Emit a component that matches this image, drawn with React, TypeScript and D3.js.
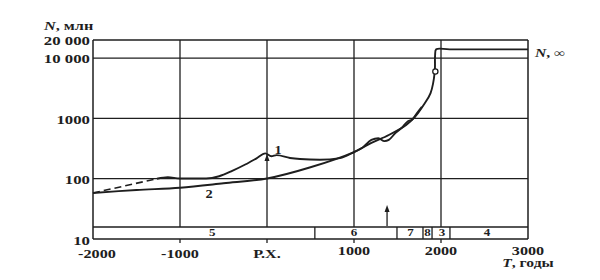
import React from "react";
import * as d3 from "d3";

const W = 600;
const H = 280;

const xTicks = [-2000, -1000, 0, 1000, 2000, 3000];
const xTickLabels = ["-2000", "-1000", "Р.Х.", "1000", "2000", "3000"];
const yTicks = [10, 100, 1000, 10000, 20000];
const yTickLabels = ["10", "100", "1000", "10 000", "20 000"];

// curve 2 (theory)
const theoryYears = [-2000, -1500, -1000, -500, 0, 500, 1000, 1200, 1400, 1600, 1700, 1800, 1880, 1928, 1932, 1945, 2100, 3000];
const theoryN = [58, 65, 71, 84, 101, 155, 277, 392, 531, 778, 1057, 1670, 2630, 5890, 11000, 14000, 14000, 14000];

// curve 1 (data)
const dataYears = [-1265, -1140, -1000, -700, -550, -400, -250, -120, -20, 50, 110, 264, 379, 609, 839, 1000, 1100, 1200, 1280, 1350, 1400, 1470, 1550, 1620, 1670, 1720, 1780];
const dataN = [100, 106, 101, 101, 110, 135, 172, 218, 263, 236, 246, 221, 212, 206, 220, 277, 330, 440, 470, 420, 440, 560, 700, 900, 960, 1200, 1550];

// dashed extrapolation
const dashYears = [-2000, -1265];
const dashN = [58, 100];

// period band
const bandBounds = [-2000, 550, 1494, 1793, 1897, 2103, 3000];
const bandLabels = ["5", "6", "7", "8", "3", "4"];
const bandLabelYears = [-630, 1000, 1650, 1845, 2010, 2530];

const arrowYear = 1380;
const circleYear = 1935;
const circleN = 6000;

const INK = "#1e1e1e";
const FONT = "'Liberation Serif', 'DejaVu Serif', serif";

function Txt({ x, y, anchor = "middle", size = 12, sx = 1.4, italic = false, children }: any) {
  return (
    <g transform={`translate(${x},${y}) scale(${sx},1)`}>
      <text
        x={0}
        y={0}
        textAnchor={anchor}
        dominantBaseline="central"
        fontFamily={FONT}
        fontSize={size}
        fontWeight="bold"
        fontStyle={italic ? "italic" : "normal"}
        fill={INK}
      >
        {children}
      </text>
    </g>
  );
}

export default function App() {
  const x = d3.scaleLinear().domain([-2000, 3000]).range([93, 528]);
  const y = d3.scaleLog().domain([10, 20000]).range([239, 40]);
  const bandTop = 227;

  const lineC = d3
    .line<[number, number]>()
    .x((d) => x(d[0]))
    .y((d) => y(d[1]))
    .curve(d3.curveCatmullRom.alpha(0.5));
  const lineM = d3
    .line<[number, number]>()
    .x((d) => x(d[0]))
    .y((d) => y(d[1]))
    .curve(d3.curveMonotoneX);

  const theory = theoryYears.map((t, i) => [t, theoryN[i]] as [number, number]);
  const data = dataYears.map((t, i) => [t, dataN[i]] as [number, number]);
  const dash = dashYears.map((t, i) => [t, dashN[i]] as [number, number]);

  return (
    <svg width={W} height={H} style={{ position: "absolute", left: 0, top: 0, background: "#fff" }}>
      <rect width={W} height={H} fill="#fff" />
      {yTicks.map((v) => (
        <line key={"h" + v} x1={x(-2000)} x2={x(3000)} y1={y(v)} y2={y(v)} stroke={INK} strokeWidth={1.3} />
      ))}
      <line x1={x(-2000)} x2={x(3000)} y1={bandTop} y2={bandTop} stroke={INK} strokeWidth={1.3} />
      <line x1={x(-2000)} x2={x(-2000)} y1={y(20000)} y2={y(10)} stroke={INK} strokeWidth={1.5} />
      <line x1={x(3000)} x2={x(3000)} y1={y(20000)} y2={y(10)} stroke={INK} strokeWidth={1.5} />
      {xTicks.slice(1, -1).map((t) => (
        <g key={"v" + t}>
          <line x1={x(t)} x2={x(t)} y1={y(20000)} y2={bandTop} stroke={INK} strokeWidth={1.3} />
          <line x1={x(t)} x2={x(t)} y1={y(10)} y2={y(10) + 4} stroke={INK} strokeWidth={1.3} />
        </g>
      ))}
      {bandBounds.slice(1, -1).map((t) => (
        <line key={"b" + t} x1={x(t)} x2={x(t)} y1={bandTop} y2={y(10)} stroke={INK} strokeWidth={1.3} />
      ))}
      {bandLabels.map((l, i) => (
        <Txt key={"bl" + i} x={x(bandLabelYears[i])} y={233} size={10} sx={1.3}>
          {l}
        </Txt>
      ))}
      <line x1={x(arrowYear)} x2={x(arrowYear)} y1={bandTop - 1} y2={210} stroke={INK} strokeWidth={1.3} />
      <path d={`M${x(arrowYear) - 2.5},${212} L${x(arrowYear)},${205} L${x(arrowYear) + 2.5},${212} Z`} fill={INK} />
      <path d={`M${x(0) - 2.5},${161} L${x(0)},${154} L${x(0) + 2.5},${161} Z`} fill={INK} />

      <path d={lineC(dash) || ""} fill="none" stroke={INK} strokeWidth={1.6} strokeDasharray="7,4" />
      <path d={lineC(theory) || ""} fill="none" stroke={INK} strokeWidth={1.9} />
      <path d={lineM(data) || ""} fill="none" stroke={INK} strokeWidth={1.9} />
      <circle cx={x(circleYear)} cy={y(circleN)} r={2.6} fill="#fff" stroke={INK} strokeWidth={1.3} />

      <Txt x={278} y={150} size={12} sx={1.2}>1</Txt>
      <Txt x={209} y={194} size={12} sx={1.2}>2</Txt>

      {yTicks.map((v, i) => (
        <Txt key={"yl" + v} x={90} y={v === 10 ? 241 : y(v) + 1} anchor="end" size={12} sx={1.4}>
          {yTickLabels[i]}
        </Txt>
      ))}
      {xTicks.map((t, i) => (
        <Txt key={"xl" + t} x={x(t) + (i === 0 ? 4 : 0)} y={i >= 3 ? 251 : 254} size={12} sx={1.35}>
          {xTickLabels[i]}
        </Txt>
      ))}
      <g transform="translate(44,26) scale(1.35,1)">
        <text x={0} y={0} dominantBaseline="central" fontFamily={FONT} fontSize={12} fontWeight="bold" fill={INK}>
          <tspan fontStyle="italic">N</tspan>, млн
        </text>
      </g>
      <g transform="translate(528,263) scale(1.3,1)">
        <text x={0} y={0} textAnchor="middle" dominantBaseline="central" fontFamily={FONT} fontSize={12} fontWeight="bold" fill={INK}>
          <tspan fontStyle="italic">T</tspan>, годы
        </text>
      </g>
      <g transform="translate(535,53) scale(1.3,1)">
        <text x={0} y={0} dominantBaseline="central" fontFamily={FONT} fontSize={12} fontWeight="bold" fill={INK}>
          <tspan fontStyle="italic">N</tspan>, ∞
        </text>
      </g>
    </svg>
  );
}
